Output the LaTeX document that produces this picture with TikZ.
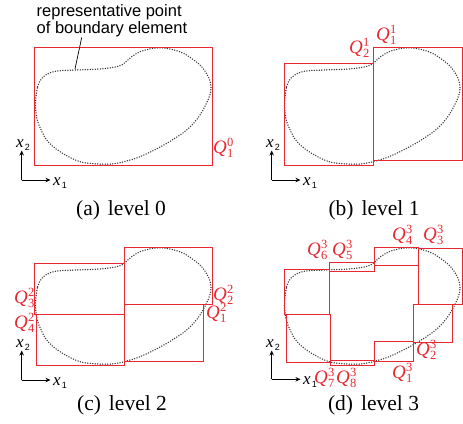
\documentclass[tikz,border=0pt]{standalone}
\usepackage{fontspec}
\setmainfont{Liberation Serif}
\newfontfamily\sansf{Liberation Sans}
\usetikzlibrary{arrows.meta}
\definecolor{qred}{RGB}{232,40,48}
\newcommand\QL[2]{\textit{Q}\kern0.3bp\rlap{\raisebox{7bp}{\fontsize{12.5bp}{12.5bp}\selectfont #2}}\raisebox{-4bp}{\fontsize{12.5bp}{12.5bp}\selectfont #1}}
\newcommand\XL[1]{\textit{x}\kern1.2bp\raisebox{-3bp}{\sansf\fontsize{9bp}{9bp}\selectfont #1}}
\newcommand\bdcurve{\draw[bd] plot[smooth cycle,tension=0.55] coordinates {(35.7,100) (37.7,86.7) (41.7,78.3) (50,72.7) (60,70.7) (75,70) (100,69) (116.7,66.7) (123.3,64) (126.7,61) (131.7,56.7) (140,51.7) (153.3,48.3) (166.7,48.3) (183.3,53.3) (200,65) (208.3,76.7) (211,86.7) (209.3,96.7) (200,115) (186.7,130) (166.7,143.3) (140,156.7) (116.7,163.3) (100,164) (80,161.7) (60,151.7) (46.7,140) (38.3,123.3) (35.7,110)};}
\tikzset{
  bd/.style={line width=1.5bp, dash pattern=on 0pt off 2.5bp, line cap=round, draw=black!80},
  box/.style={draw=qred, line width=1bp},
  ql/.style={text=qred, anchor=base west, inner sep=0pt, font=\fontsize{19bp}{19bp}\selectfont},
  axl/.style={anchor=base west, inner sep=0pt, font=\fontsize{17bp}{17bp}\selectfont},
  axis/.style={-{Stealth[length=5bp,width=4.5bp]}, line width=0.8bp},
  captext/.style={anchor=base, inner sep=0pt, font=\fontsize{21.5bp}{21.5bp}\selectfont},
  note/.style={anchor=base west, inner sep=0pt, font=\sansf\fontsize{16.5bp}{16.5bp}\selectfont}
}
\begin{document}
\begin{tikzpicture}[x=1bp,y=-1bp]
\useasboundingbox (0,0) rectangle (463,423);
% ---------- (a)
\bdcurve
\draw[box] (34.5,47.5) rectangle (212,165);
\node[ql] (qa10) at (213,153) {\QL{1}{0}};
\node[note] (rep1) at (36.5,16.7) {representative point};
\node[note] (rep2) at (36.5,33.3) {of boundary element};
\coordinate (lead) at (81.7,37.5);
\coordinate (lpt) at (75,69);
\draw[line width=0.7bp] (lead) -- (lpt);
\coordinate (oa) at (21.7,180);
\coordinate (ya) at (21.7,150.5);
\coordinate (xa) at (50.5,180);
\draw[axis] (oa) -- (ya);
\draw[axis] (oa) -- (xa);
\node[axl] (x2a) at (16,147) {\XL{2}};
\node[axl] (x1a) at (53,185) {\XL{1}};
\node[captext] (capa) at (121,215) {(a)\hspace{8bp}level 0};
% ---------- (b)
\begin{scope}[shift={(249,0)}]
\bdcurve
\end{scope}
\draw[box] (284,63) rectangle (373,165);
\draw[box] (373,47.7) rectangle (462,160.7);
\node[ql] (qb21) at (349,53) {\QL{2}{1}};
\node[ql] (qb11) at (376,40) {\QL{1}{1}};
\coordinate (ob) at (271.7,180);
\coordinate (yb) at (271.7,150.5);
\coordinate (xb) at (300.5,180);
\draw[axis] (ob) -- (yb);
\draw[axis] (ob) -- (xb);
\node[axl] (x2b) at (266,147) {\XL{2}};
\node[axl] (x1b) at (303,185) {\XL{1}};
\node[captext] (capb) at (374,215) {(b)\hspace{8bp}level 1};
% ---------- (c)
\begin{scope}[shift={(0,200)}]
\bdcurve
\end{scope}
\draw[box] (34.3,263.3) rectangle (124.3,314.3);
\draw[box] (36.3,314.3) rectangle (124.3,365);
\draw[box] (124.3,247.3) rectangle (212.3,304.3);
\draw[box] (124.3,304.3) rectangle (203.3,361);
\node[ql] (qc32) at (14,303) {\QL{3}{2}};
\node[ql] (qc42) at (14,328) {\QL{4}{2}};
\node[ql] (qc22) at (213,300) {\QL{2}{2}};
\node[ql] (qc12) at (206,318) {\QL{1}{2}};
\coordinate (oc) at (21.7,380);
\coordinate (yc) at (21.7,350.5);
\coordinate (xc) at (50.5,380);
\draw[axis] (oc) -- (yc);
\draw[axis] (oc) -- (xc);
\node[axl] (x2c) at (16,347) {\XL{2}};
\node[axl] (x1c) at (53,385) {\XL{1}};
\node[captext] (capc) at (122,410) {(c)\hspace{8bp}level 2};
% ---------- (d)
\begin{scope}[shift={(249,200)}]
\bdcurve
\end{scope}
\draw[box] (284.3,269) rectangle (329.3,314.3);
\draw[box] (286.3,314.3) rectangle (330,362.5);
\draw[box] (329.3,262.3) rectangle (374,271.7);
\draw[box] (330,360) rectangle (374,365);
\draw[box] (374,247.3) rectangle (418.3,265);
\draw[box] (374,341.7) rectangle (413.3,361);
\draw[box] (418.3,248.3) rectangle (462.3,304.3);
\draw[box] (413.3,304.3) rectangle (452.7,342.3);
\node[ql] (qd63) at (307,255) {\QL{6}{3}};
\node[ql] (qd53) at (332,255) {\QL{5}{3}};
\node[ql] (qd43) at (392,240) {\QL{4}{3}};
\node[ql] (qd33) at (423,240) {\QL{3}{3}};
\node[ql] (qd23) at (416,355) {\QL{2}{3}};
\node[ql] (qd13) at (392,378) {\QL{1}{3}};
\node[ql] (qd73) at (314,383) {\QL{7}{3}};
\node[ql] (qd83) at (336,383) {\QL{8}{3}};
\coordinate (od) at (271.7,379.3);
\coordinate (yd) at (271.7,350.5);
\coordinate (xd) at (300.5,379.3);
\draw[axis] (od) -- (yd);
\draw[axis] (od) -- (xd);
\node[axl] (x2d) at (266,347) {\XL{2}};
\node[axl] (x1d) at (303,384) {\XL{1}};
\node[captext] (capd) at (373.5,410) {(d)\hspace{8bp}level 3};
\end{tikzpicture}
\end{document}
